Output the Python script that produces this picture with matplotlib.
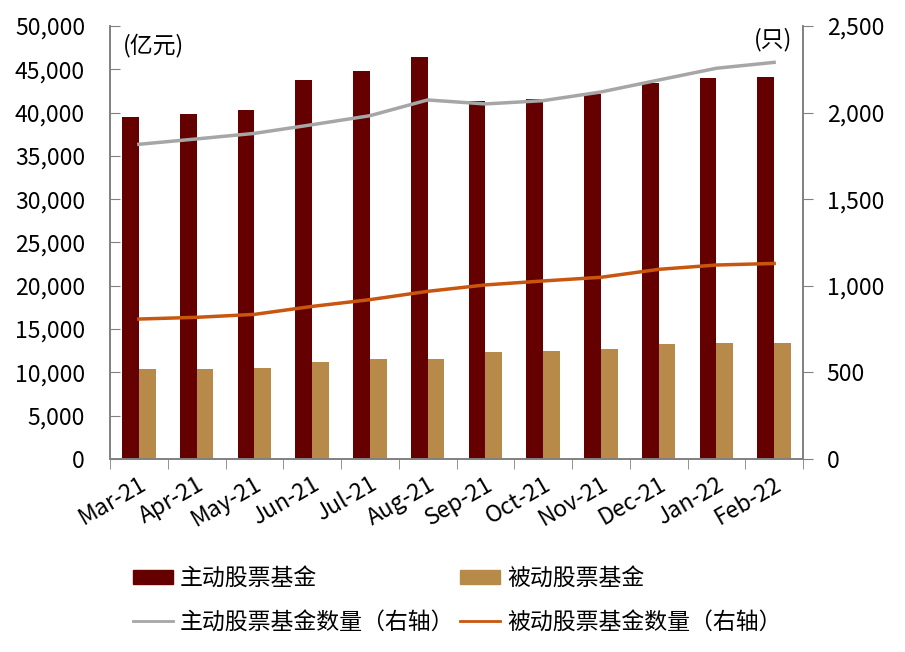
import matplotlib
matplotlib.use("Agg")
import matplotlib.pyplot as plt
import numpy as np
from matplotlib.lines import Line2D
from matplotlib.patches import Patch

plt.rcParams['font.family'] = ['Noto Sans CJK SC', 'DejaVu Sans']

months = ["Mar-21", "Apr-21", "May-21", "Jun-21", "Jul-21", "Aug-21",
          "Sep-21", "Oct-21", "Nov-21", "Dec-21", "Jan-22", "Feb-22"]
active_aum = [39500, 39800, 40300, 43800, 44800, 46400,
              41300, 41600, 42100, 43400, 44000, 44100]
passive_aum = [10400, 10400, 10500, 11200, 11500, 11600,
               12300, 12500, 12700, 13300, 13400, 13400]
active_count = [1817, 1848, 1880, 1930, 1982, 2073,
                2050, 2069, 2119, 2188, 2256, 2290]
passive_count = [808, 818, 835, 881, 920, 968,
                 1005, 1028, 1049, 1095, 1120, 1129]

c_active = "#640000"
c_passive = "#B88A4A"
c_gray = "#A6A6A6"
c_orange = "#C8560F"
c_axis = "#808080"
fs = 16.5

fig = plt.figure(figsize=(9.05, 6.52), dpi=100)
ax = fig.add_axes([110/905, 1-459/652, (803-110)/905, (459-26)/652])
ax2 = ax.twinx()

x = np.arange(len(months))
w = 0.29
ax.bar(x - w/2, active_aum, width=w, color=c_active, zorder=2)
ax.bar(x + w/2, passive_aum, width=w, color=c_passive, zorder=2)
ax2.plot(x, active_count, color=c_gray, lw=2.5)
ax2.plot(x, passive_count, color=c_orange, lw=2.5)

ax.set_xlim(-0.5, len(months) - 0.5)
ax.set_ylim(0, 50000)
ax2.set_ylim(0, 2500)
ax.set_yticks(np.arange(0, 50001, 5000))
ax.set_yticklabels([f"{v:,}" for v in range(0, 50001, 5000)], fontsize=fs)
ax2.set_yticks(np.arange(0, 2501, 500))
ax2.set_yticklabels([f"{v:,}" for v in range(0, 2501, 500)], fontsize=fs)

ax.set_xticks(x)
ax.set_xticklabels(months, rotation=30, ha='right', rotation_mode='anchor', fontsize=fs)
ax.set_xticks(np.arange(-0.5, len(months), 1), minor=True)
ax.tick_params(axis='x', which='major', length=0, pad=10)
ax.tick_params(axis='x', which='minor', length=7, color=c_axis, direction='out')
ax.tick_params(axis='y', length=7, color=c_axis, direction='in', pad=18)
ax2.tick_params(axis='y', length=7, color=c_axis, direction='out', pad=10)

for a in (ax, ax2):
    a.spines['top'].set_visible(False)
    for s in ('left', 'right', 'bottom'):
        a.spines[s].set_color(c_axis)
        a.spines[s].set_linewidth(1.2)

fig.text(123/905, 1-45/652, "(亿元)", fontsize=fs, va='center', ha='left')
fig.text(792/905, 1-40/652, "(只)", fontsize=fs, va='center', ha='right')

handles = [Patch(color=c_active), Patch(color=c_passive),
           Line2D([0], [0], color=c_gray, lw=2), Line2D([0], [0], color=c_orange, lw=2)]
labels = ["主动股票基金", "被动股票基金", "主动股票基金数量（右轴）", "被动股票基金数量（右轴）"]
fig.legend([handles[0], handles[2], handles[1], handles[3]],
           [labels[0], labels[2], labels[1], labels[3]],
           ncol=2, loc='upper left', bbox_to_anchor=(133/905, 1-567/652),
           frameon=False, fontsize=fs, handlelength=1.75, handleheight=0.6,
           columnspacing=0.25, handletextpad=0.3, labelspacing=0.92,
           borderpad=0, borderaxespad=0)

fig.savefig("out.png", dpi=100)
